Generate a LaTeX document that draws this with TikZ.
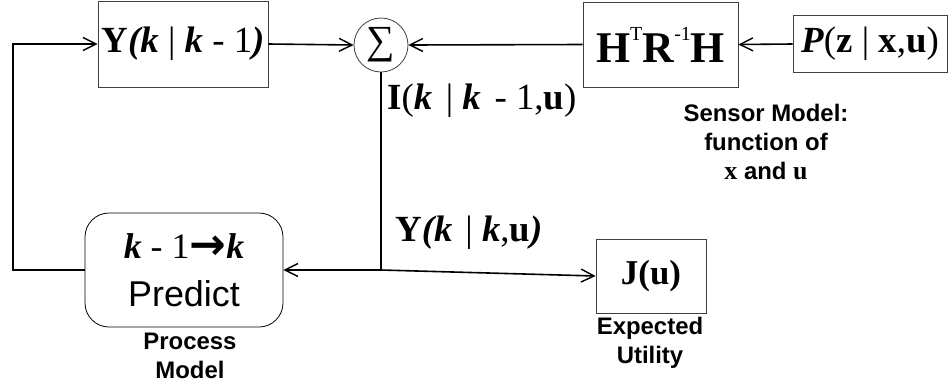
\documentclass[tikz,border=0pt]{standalone}
\usepackage{fontspec}
\setmainfont{Liberation Serif}
\newfontfamily\arialfont{Liberation Sans}
\newfontfamily\djfont{DejaVu Sans}
\usetikzlibrary{arrows.meta}
\newcommand{\bi}[1]{\textbf{\textit{#1}}}
\begin{document}
\begin{tikzpicture}[x=1bp,y=-1bp,
  box/.style={draw=black!75,line width=0.8bp,inner sep=0pt,minimum height=#1},
  conn/.style={line width=1.6bp,-{Straight Barb[length=13bp,width=13bp,line width=1.4bp]}},
  plain/.style={line width=1.6bp},
  mathtxt/.style={font=\fontsize{37}{40}\selectfont},
  lbl/.style={font=\arialfont\bfseries\fontsize{24}{29}\selectfont,align=center}]
\useasboundingbox (0,0) rectangle (949,385);
\node[box=86bp,minimum width=170bp,mathtxt] (Y) at (183,44) {\textbf{Y}\bi{(k} | \bi{k} - 1\bi{)}};
\node[draw=black!75,line width=0.8bp,circle,minimum size=54bp,inner sep=0pt,font=\fontsize{40}{40}\selectfont] (sum) at (381,45) {\raisebox{-3bp}{∑}};
\node[box=85bp,minimum width=155bp,font=\fontsize{44}{48}\selectfont] (H) at (660.5,44.5) {\textbf{H}\raisebox{0.5em}{\fontsize{20}{22}\selectfont T}\textbf{R}\raisebox{0.5em}{\fontsize{20}{22}\selectfont -1}\textbf{H}};
\node[box=57bp,minimum width=154bp,mathtxt] (P) at (870,44) {\bi{P}(\textbf{z} | \textbf{x},\textbf{u})};
\node[draw=black,line width=0.8bp,rounded corners=24bp,minimum width=198bp,minimum height=114bp,align=center,inner sep=0pt,font=\fontsize{36}{48}\selectfont] (pred) at (184,270) {\bi{k} - 1{\djfont\bfseries\fontsize{44}{44}\selectfont\raisebox{-1bp}{→}}\bi{k}\\{\arialfont Predict}};
\node[box=74bp,minimum width=110bp,font=\fontsize{35}{40}\selectfont] (J) at (651,276) {\textbf{J(u)}};
\coordinate (jn) at (381,270);
\coordinate (lc) at (13,270);
\draw[conn] (Y.east) -- (sum.west);
\draw[conn] (H.west) -- (sum.east);
\draw[conn] (P.west) -- (H.east);
\draw[plain] (sum.south) -- (jn);
\draw[conn] (jn) -- (pred.east);
\draw[conn] (jn) -- (J.west);
\draw[conn] (pred.west) -- (lc) |- (Y.west);
\node[anchor=west,mathtxt,inner sep=0pt] (Il) at (387,101) {\textbf{I}(\bi{k}\hspace{0.12em} | \bi{k}\hspace{0.12em} - 1,\textbf{u})};
\node[anchor=west,mathtxt,inner sep=0pt] (Yl) at (395,233) {\textbf{Y}\bi{(k}\hspace{0.1em} | \bi{k},\textbf{u}\bi{)}};
\node[lbl] (sm) at (766,142) {Sensor Model:\\function of\\{\rmfamily\fontsize{26}{29}\selectfont\textbf{x}} and {\rmfamily\fontsize{26}{29}\selectfont\textbf{u}}};
\node[lbl] (pm) at (190,356) {Process\\Model};
\node[lbl] (eu) at (650,343) {Expected\\Utility};
\end{tikzpicture}
\end{document}
